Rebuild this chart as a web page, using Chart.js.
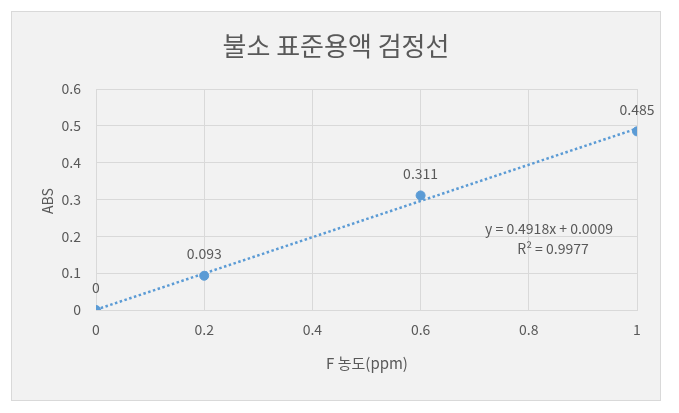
<!DOCTYPE html>
<html>
<head>
<meta charset="utf-8">
<script src="https://cdn.jsdelivr.net/npm/chart.js@4.4.1/dist/chart.umd.min.js"></script>
<style>
  body { margin: 0; background: #ffffff; }
  #box {
    position: absolute; left: 11px; top: 11px;
    width: 648px; height: 388px;
    border: 1px solid #d9d9d9; background: #f2f2f2;
  }
  canvas { display: block; }
</style>
</head>
<body>
<div id="box"><canvas id="myChart" width="648" height="388"></canvas></div>
<script>
// data
const concValues = [0, 0.2, 0.6, 1]
const absValues = [0, 0.093, 0.311, 0.485]
const xTicks = [0, 0.2, 0.4, 0.6, 0.8, 1]
const yTicks = [0, 0.1, 0.2, 0.3, 0.4, 0.5, 0.6]

// trendline from the equation shown on the chart
const slope = 0.4918
const intercept = 0.0009
const rSquared = 0.9977
const trendX = [0, 1]
const trendPoints = trendX.map(x => ({ x: x, y: slope * x + intercept }))

const points = concValues.map((x, i) => ({ x: x, y: absValues[i] }))

const textColor = '#595959'
const fontName = '"Noto Sans CJK KR", "Noto Sans", sans-serif'

// draws title, axis titles, point labels and trendline equation
const extraText = {
    id: 'extraText',
    afterDatasetsDraw(chart) {
        const c = chart.ctx
        const xs = chart.scales.x
        const ys = chart.scales.y
        c.save()
        c.fillStyle = textColor
        c.textAlign = 'center'
        c.textBaseline = 'middle'

        c.font = '26px ' + fontName
        c.fillText('불소 표준용액 검정선', 324, 34)

        c.font = '15px ' + fontName
        c.fillText('F 농도(ppm)', 355, 351)

        c.save()
        c.font = '14px ' + fontName
        c.translate(36, 189)
        c.rotate(-Math.PI / 2)
        c.fillText('ABS', 0, 0)
        c.restore()

        // point labels
        c.font = '14px ' + fontName
        points.forEach((p, i) => {
            c.fillText(String(absValues[i]), xs.getPixelForValue(p.x), ys.getPixelForValue(p.y) - 22)
        })

        // equation
        c.fillText('y = ' + slope + 'x + ' + intercept.toFixed(4), 537, 217)
        c.fillText('R² = ' + rSquared, 541, 237)
        c.restore()
    }
}

var ctx = document.getElementById('myChart').getContext('2d');
var mychart = new Chart(ctx, {
    type: 'scatter',
    data: {
        datasets: [{
            label: 'trend',
            type: 'line',
            data: trendPoints,
            borderColor: '#5b9bd5',
            borderWidth: 2.5,
            borderDash: [2.5, 2.5],
            borderCapStyle: 'butt',
            pointRadius: 0,
            fill: false
        }, {
            label: 'ABS',
            data: points,
            backgroundColor: '#5b9bd5',
            borderColor: '#5b9bd5',
            pointRadius: 4.5,
            pointHoverRadius: 4.5
        }]
    },
    options: {
        responsive: false,
        animation: false,
        layout: { padding: { top: 77, right: 23, left: 0, bottom: 0 } },
        plugins: {
            legend: { display: false },
            tooltip: { enabled: false }
        },
        scales: {
            x: {
                type: 'linear',
                min: 0,
                max: 1,
                afterBuildTicks: s => { s.ticks = xTicks.map(v => ({ value: v })) },
                afterFit: s => { s.height = 90 },
                grid: { color: '#d9d9d9', drawTicks: false },
                border: { color: '#d9d9d9' },
                ticks: {
                    padding: 11,
                    color: textColor,
                    font: { size: 14, family: fontName },
                    callback: v => String(v)
                }
            },
            y: {
                min: 0,
                max: 0.6,
                afterBuildTicks: s => { s.ticks = yTicks.map(v => ({ value: v })) },
                afterFit: s => { s.width = 84 },
                grid: { color: '#d9d9d9', drawTicks: false },
                border: { color: '#d9d9d9' },
                ticks: {
                    padding: 15,
                    color: textColor,
                    font: { size: 14, family: fontName },
                    callback: v => String(v)
                }
            }
        }
    },
    plugins: [extraText]
});
</script>
</body>
</html>
